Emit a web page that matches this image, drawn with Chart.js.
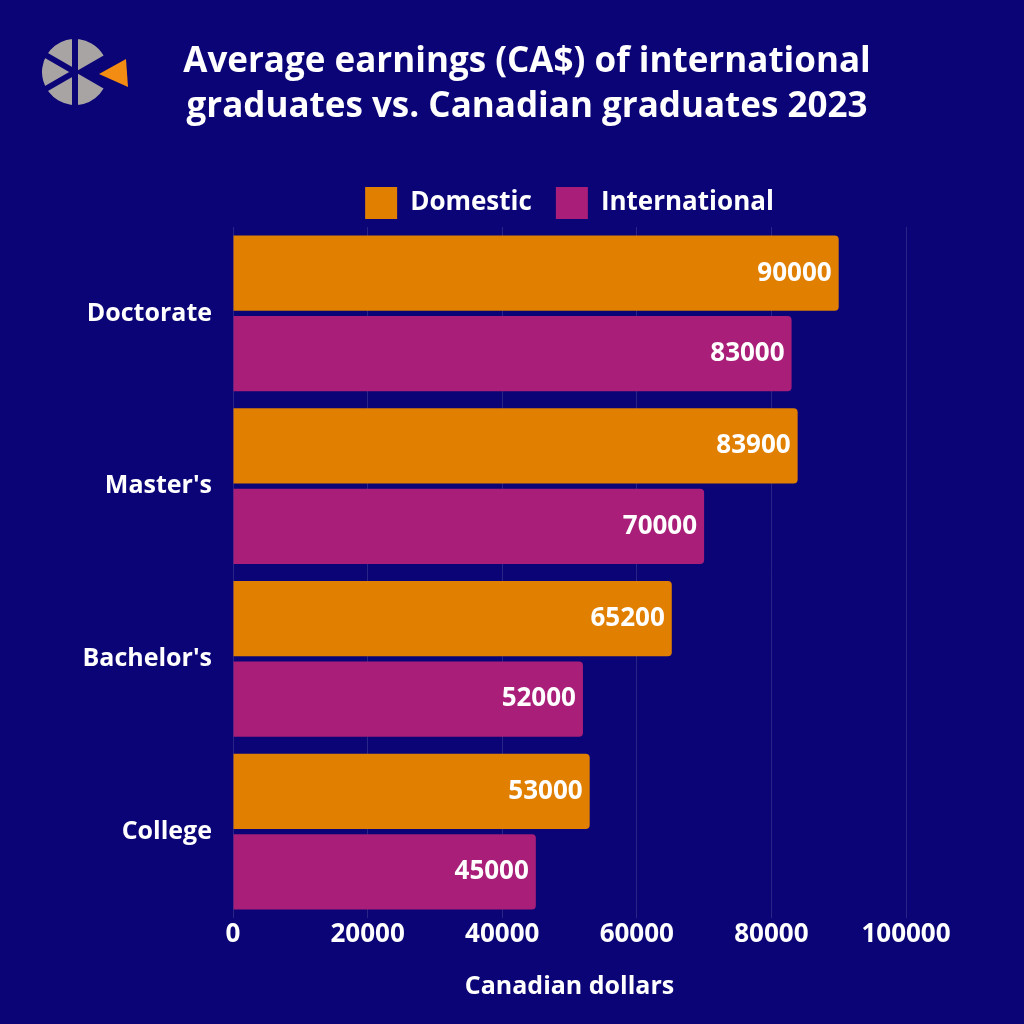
<!DOCTYPE html>
<html>
<head>
<meta charset="utf-8">
<script src="https://cdn.jsdelivr.net/npm/chart.js@4.4.1/dist/chart.umd.min.js"></script>
<style>
  html, body { margin: 0; padding: 0; background: #0b0476; }
  #wrap { position: relative; width: 1024px; height: 1024px; background: #0b0476; overflow: hidden; }
  #title { position: absolute; left: 127px; width: 800px; top: 36px; text-align: center; color: #ffffff;
           font-family: "Open Sans", "Noto Sans", sans-serif; font-weight: 700; font-size: 35px; line-height: 45px; }
  #logo { position: absolute; left: 30px; top: 30px; }
  #chart { position: absolute; left: 0; top: 0; }
</style>
</head>
<body>
<div id="wrap">
  <canvas id="chart" width="1024" height="1024"></canvas>
  <canvas id="logo" width="110" height="90"></canvas>
  <div id="title">Average earnings (CA$) of international<br>graduates vs. Canadian graduates 2023</div>
</div>
<script>
const categories = ["Doctorate", "Master's", "Bachelor's", "College"];
const domesticValues = [90000, 83900, 65200, 53000];
const internationalValues = [83000, 70000, 52000, 45000];
const seriesNames = ["Domestic", "International"];
const xTicks = [0, 20000, 40000, 60000, 80000, 100000];
const xTitle = "Canadian dollars";

const FONT = '"Open Sans", "Noto Sans", sans-serif';
const ORANGE = '#e07f00';
const MAGENTA = '#a81e78';
const NAVY = '#0b0476';

// logo
(function drawLogo() {
  const c = document.getElementById('logo').getContext('2d');
  const cx = 45, cy = 42, r = 33;
  c.fillStyle = '#a8a4a4';
  c.beginPath();
  c.moveTo(cx, cy);
  c.arc(cx, cy, r, Math.PI / 6, 2 * Math.PI - Math.PI / 6);
  c.closePath();
  c.fill();
  c.strokeStyle = NAVY;
  c.lineWidth = 6;
  c.beginPath();
  c.moveTo(cx, cy - r - 2); c.lineTo(cx, cy + r + 2);
  c.moveTo(cx, cy); c.lineTo(cx - Math.cos(Math.PI / 6) * (r + 2), cy - Math.sin(Math.PI / 6) * (r + 2));
  c.moveTo(cx, cy); c.lineTo(cx - Math.cos(Math.PI / 6) * (r + 2), cy + Math.sin(Math.PI / 6) * (r + 2));
  c.stroke();
  c.fillStyle = '#f28c12';
  c.beginPath();
  c.moveTo(cx + 24, cy + 2);
  c.lineTo(cx + 51, cy - 13);
  c.lineTo(cx + 53, cy + 15);
  c.closePath();
  c.fill();
})();

const valueLabels = {
  id: 'valueLabels',
  afterDatasetsDraw(chart) {
    const ctx = chart.ctx;
    ctx.save();
    ctx.font = 'bold 26px ' + FONT;
    ctx.fillStyle = '#ffffff';
    ctx.textAlign = 'right';
    ctx.textBaseline = 'middle';
    chart.data.datasets.forEach((ds, di) => {
      const meta = chart.getDatasetMeta(di);
      meta.data.forEach((el, i) => {
        ctx.fillText(String(ds.data[i]), el.x - 7, el.y);
      });
    });
    ctx.restore();
  }
};

new Chart(document.getElementById('chart'), {
  type: 'bar',
  data: {
    labels: categories,
    datasets: [
      { label: seriesNames[0], data: domesticValues, backgroundColor: ORANGE, borderRadius: 4, borderSkipped: 'start',
        categoryPercentage: 0.93, barPercentage: 0.9375 },
      { label: seriesNames[1], data: internationalValues, backgroundColor: MAGENTA, borderRadius: 4, borderSkipped: 'start',
        categoryPercentage: 0.93, barPercentage: 0.9375 }
    ]
  },
  options: {
    indexAxis: 'y',
    responsive: false,
    animation: false,
    layout: { padding: { top: 163, left: 20, right: 118, bottom: 22 } },
    plugins: {
      title: { display: false },
      tooltip: { enabled: false },
      legend: {
        position: 'top',
        fullSize: false,
        maxHeight: 64,
        labels: {
          color: '#ffffff',
          font: { family: FONT, size: 26, weight: 'bold' },
          boxWidth: 32, boxHeight: 32, padding: 24
        }
      }
    },
    scales: {
      x: {
        min: 0, max: 100000,
        afterBuildTicks(scale) { scale.ticks = xTicks.map(v => ({ value: v })); },
        ticks: { color: '#ffffff', font: { family: FONT, size: 26, weight: 'bold', lineHeight: 1 }, padding: 4, maxRotation: 0,
                 callback: (v) => String(v) },
        grid: { color: 'rgba(255,255,255,0.13)', drawTicks: false, lineWidth: 1 },
        border: { display: false },
        title: { display: true, text: xTitle, color: '#ffffff', font: { family: FONT, size: 25, weight: 'bold', lineHeight: 1.2 }, padding: { top: 20, bottom: 0 } }
      },
      y: {
        ticks: { color: '#ffffff', font: { family: FONT, size: 25, weight: 'bold' }, padding: 13 },
        grid: { display: false },
        border: { display: false },
        afterFit(scale) { scale.width = 213; }
      }
    }
  },
  plugins: [valueLabels]
});
</script>
</body>
</html>
